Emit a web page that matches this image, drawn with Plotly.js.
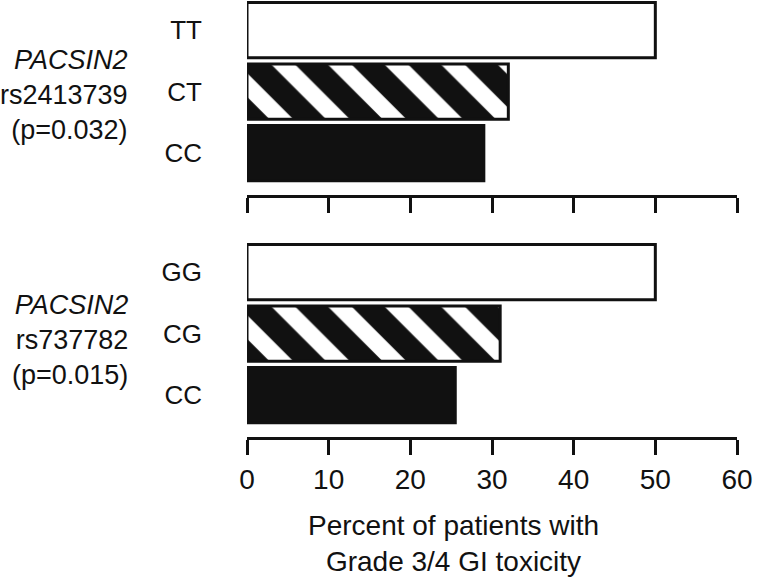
<!DOCTYPE html>
<html>
<head>
<meta charset="utf-8">
<script src="https://cdn.plot.ly/plotly-3.0.1.min.js"></script>
<style>html,body{margin:0;padding:0;background:#fff;}#chart{width:760px;height:577px;}</style>
</head>
<body>
<div id="chart"></div>
<script>
// Data
const topGenotypes = ['CC', 'CT', 'TT'];
const topValues = [29, 32, 50];
const bottomGenotypes = ['CC', 'CG', 'GG'];
const bottomValues = [25.5, 31, 50];
const topLabel = '<i>PACSIN2</i><br>rs2413739<br>(p=0.032)';
const bottomLabel = '<i>PACSIN2</i><br>rs737782<br>(p=0.015)';
const xTicks = [0, 10, 20, 30, 40, 50, 60];
const xTitle = 'Percent of patients with<br>Grade 3/4 GI toxicity';

const INK = '#111111';
const FONT = 'Arial, "Liberation Sans", sans-serif';
const markerFor = () => ({
  color: [INK, INK, 'white'],
  line: {color: INK, width: 3},
  pattern: {
    shape: ['', '\\', ''],
    bgcolor: 'white',
    fgcolor: INK,
    fillmode: 'replace',
    size: 40,
    solidity: 0.58
  }
});

const traces = [
  {type: 'bar', orientation: 'h', y: topGenotypes, x: topValues, xaxis: 'x', yaxis: 'y',
   marker: markerFor(), hoverinfo: 'none', showlegend: false},
  {type: 'bar', orientation: 'h', y: bottomGenotypes, x: bottomValues, xaxis: 'x2', yaxis: 'y2',
   marker: markerFor(), hoverinfo: 'none', showlegend: false}
];

const xBase = {
  range: [0, 60], tickvals: xTicks, fixedrange: true,
  showline: true, linecolor: INK, linewidth: 3,
  ticks: 'outside', ticklen: 15, tickwidth: 3, tickcolor: INK,
  showgrid: false, zeroline: false,
  tickfont: {family: FONT, size: 28, color: INK}
};
const yBase = {
  type: 'category', range: [-0.68, 2.49], showline: false, ticks: '',
  showgrid: false, zeroline: false, ticklabelstandoff: 44,
  tickfont: {family: FONT, size: 26, color: INK}, fixedrange: true
};

const layout = {
  width: 760, height: 577,
  margin: {l: 247, r: 23, t: 0, b: 140},
  paper_bgcolor: 'white', plot_bgcolor: 'white',
  bargap: 0.1,
  font: {family: FONT, color: INK},
  xaxis: Object.assign({}, xBase, {anchor: 'y', showticklabels: false}),
  xaxis2: Object.assign({}, xBase, {anchor: 'y2'}),
  yaxis: Object.assign({}, yBase, {domain: [0.5538, 1], categoryarray: topGenotypes, categoryorder: 'array'}),
  yaxis2: Object.assign({}, yBase, {domain: [0, 0.4462], categoryarray: bottomGenotypes, categoryorder: 'array'}),
  annotations: [
    {text: topLabel, xref: 'paper', yref: 'y', x: -0.2388, y: 0.95, xanchor: 'right', yanchor: 'middle',
     align: 'right', showarrow: false, font: {family: FONT, size: 27, color: INK}},
    {text: bottomLabel, xref: 'paper', yref: 'y2', x: -0.2388, y: 0.9, xanchor: 'right', yanchor: 'middle',
     align: 'right', showarrow: false, font: {family: FONT, size: 27, color: INK}},
    {text: xTitle, xref: 'paper', yref: 'paper', x: 0.4224, y: -0.2426, xanchor: 'center', yanchor: 'middle',
     align: 'center', showarrow: false, font: {family: FONT, size: 28, color: INK}}
  ]
};

Plotly.newPlot('chart', traces, layout, {displayModeBar: false, staticPlot: true});
</script>
</body>
</html>
